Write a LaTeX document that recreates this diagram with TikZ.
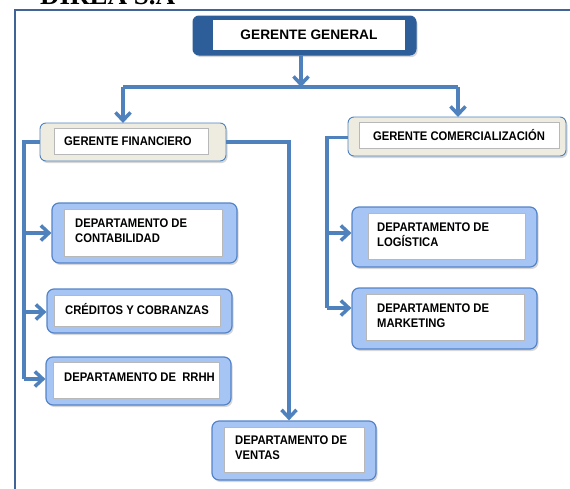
\documentclass[tikz,border=0pt]{standalone}
\usepackage{fontspec}
\setmainfont{Liberation Sans}
\newfontfamily\narrowfont[FakeStretch=0.9]{Liberation Sans}
\newfontfamily\titlefont{Liberation Serif}
\usetikzlibrary{arrows.meta,shadows}
\definecolor{arrowblue}{RGB}{79,129,189}
\definecolor{lightblue}{RGB}{166,196,244}
\definecolor{borderblue}{RGB}{84,132,200}
\definecolor{beige}{RGB}{238,236,225}
\definecolor{darkblue}{RGB}{46,94,154}
\definecolor{framecol}{RGB}{65,100,150}
\tikzset{
  boxshadow/.style={drop shadow={shadow xshift=1.5pt, shadow yshift=-2pt, opacity=0.35, fill=black!45}},
  deptbox/.style={draw=borderblue, line width=1.2pt, rounded corners=7pt, fill=lightblue, boxshadow, inner sep=0pt},
  mgrbox/.style={draw=arrowblue, line width=0.9pt, rounded corners=6pt, fill=beige, boxshadow, inner sep=0pt},
  topbox/.style={draw=darkblue, line width=1pt, rounded corners=6pt, fill=darkblue, boxshadow, inner sep=0pt},
  innerbox/.style={draw=black!28, line width=0.6pt, fill=white, inner sep=0pt},
  lbl/.style={font=\narrowfont\bfseries\fontsize{12.5}{15}\selectfont, inner sep=0pt},
  deptlbl/.style={lbl, align=left, anchor=west},
  conn/.style={draw=arrowblue, line width=3.5pt, line join=miter},
  arr/.style={-{Straight Barb[length=8pt,width=15pt]}}
}
\begin{document}
\begin{tikzpicture}[x=1pt,y=-1pt]
\useasboundingbox (0,0) rectangle (570,488);
\clip (0,0) rectangle (570,488);
% frame and title
\draw[framecol, line width=1.5pt] (15,10) rectangle (590,510);
\node[anchor=base west, font=\titlefont\bfseries\fontsize{27}{30}\selectfont, inner sep=0pt] (title) at (40,4) {DIREA S.A};

% Gerente general
\node[topbox, minimum width=223pt, minimum height=39pt] (gg) at (304.5,35.5) {};
\node[innerbox, draw=none, minimum width=192pt, minimum height=30pt] (ggin) at (309,35) {};
\node[font=\bfseries\fontsize{13.7}{16}\selectfont, inner sep=0pt] (ggt) at (309,35) {GERENTE GENERAL};

% Gerente financiero
\node[mgrbox, minimum width=186pt, minimum height=38pt] (gf) at (133,142) {};
\node[innerbox, minimum width=154pt, minimum height=26pt] (gfin) at (131,141) {};
\node[lbl] (gft) at (128,141) {GERENTE FINANCIERO};

% Gerente comercializacion
\node[mgrbox, minimum width=218pt, minimum height=39pt] (gc) at (457,136.5) {};
\node[innerbox, minimum width=200pt, minimum height=26pt] (gcin) at (459,135) {};
\node[lbl] (gct) at (459,135) {GERENTE COMERCIALIZACIÓN};

% Contabilidad
\node[deptbox, minimum width=185pt, minimum height=60pt] (cont) at (144.5,233) {};
\node[innerbox, minimum width=158pt, minimum height=47pt] (contin) at (143,232.5) {};
\node[deptlbl] (contt) at (75,230.5) {DEPARTAMENTO DE\\CONTABILIDAD};

% Creditos
\node[deptbox, minimum width=185pt, minimum height=44pt] (cred) at (139.5,311) {};
\node[innerbox, minimum width=166pt, minimum height=31pt] (credin) at (137,310.5) {};
\node[lbl] (credt) at (137,309.5) {CRÉDITOS Y COBRANZAS};

% RRHH
\node[deptbox, minimum width=185pt, minimum height=48pt] (rrhh) at (138.5,381) {};
\node[innerbox, minimum width=166pt, minimum height=36pt] (rrhhin) at (136,380) {};
\node[lbl] (rrhht) at (139.5,377.5) {DEPARTAMENTO DE\ \ RRHH};

% Ventas
\node[deptbox, minimum width=164pt, minimum height=59pt] (vent) at (294,450.5) {};
\node[innerbox, minimum width=140pt, minimum height=45pt] (ventin) at (294,449.5) {};
\node[deptlbl] (ventt) at (235,448) {DEPARTAMENTO DE\\VENTAS};

% Logistica
\node[deptbox, minimum width=185pt, minimum height=60pt] (logi) at (444.5,237) {};
\node[innerbox, minimum width=157pt, minimum height=46pt] (logiin) at (446.5,236) {};
\node[deptlbl] (logit) at (377,234.5) {DEPARTAMENTO DE\\LOGÍSTICA};

% Marketing
\node[deptbox, minimum width=185pt, minimum height=61pt] (mkt) at (444.5,318.5) {};
\node[innerbox, minimum width=158pt, minimum height=46pt] (mktin) at (445,317) {};
\node[deptlbl] (mktt) at (377,315.5) {DEPARTAMENTO DE\\MARKETING};

% connector coordinates
\coordinate (hbar) at (0,87);
\coordinate (gfjoin) at (123,123);
\coordinate (gcjoin) at (458,117);
\coordinate (lbus) at (24,0);
\coordinate (rbus) at (289,0);
\coordinate (cbus) at (327,0);

% top connectors
\draw[conn,arr] ([xshift=-3.5pt]gg.south) -- ([xshift=-3.5pt]gg.south |- hbar);
\draw[conn] (gfjoin |- hbar) -- (gcjoin |- hbar);
\draw[conn,arr] (gfjoin |- hbar) -- (gfjoin);
\draw[conn,arr] (gcjoin |- hbar) -- (gcjoin);

% financiero left bus
\draw[conn] (gf.west) -- (gf.west -| lbus) -- ([yshift=2pt]rrhh.west -| lbus);
\draw[conn,arr] (cont.west -| lbus) -- (cont.west);
\draw[conn,arr] ([yshift=-1pt]cred.west -| lbus) -- ([yshift=-1pt]cred.west);
\draw[conn,arr] ([yshift=2pt]rrhh.west -| lbus) -- ([yshift=2pt]rrhh.west);

% financiero right to ventas
\draw[conn,arr] (gf.east) -- (gf.east -| rbus) -- (vent.north -| rbus);

% comercializacion bus
\draw[conn] ([yshift=-1pt]gc.west) -- ([yshift=-1pt]gc.west -| cbus) -- ([yshift=10.5pt]mkt.west -| cbus);
\draw[conn,arr] ([yshift=4pt]logi.west -| cbus) -- ([yshift=4pt]logi.west);
\draw[conn,arr] ([yshift=10.5pt]mkt.west -| cbus) -- ([yshift=10.5pt]mkt.west);
\end{tikzpicture}
\end{document}
